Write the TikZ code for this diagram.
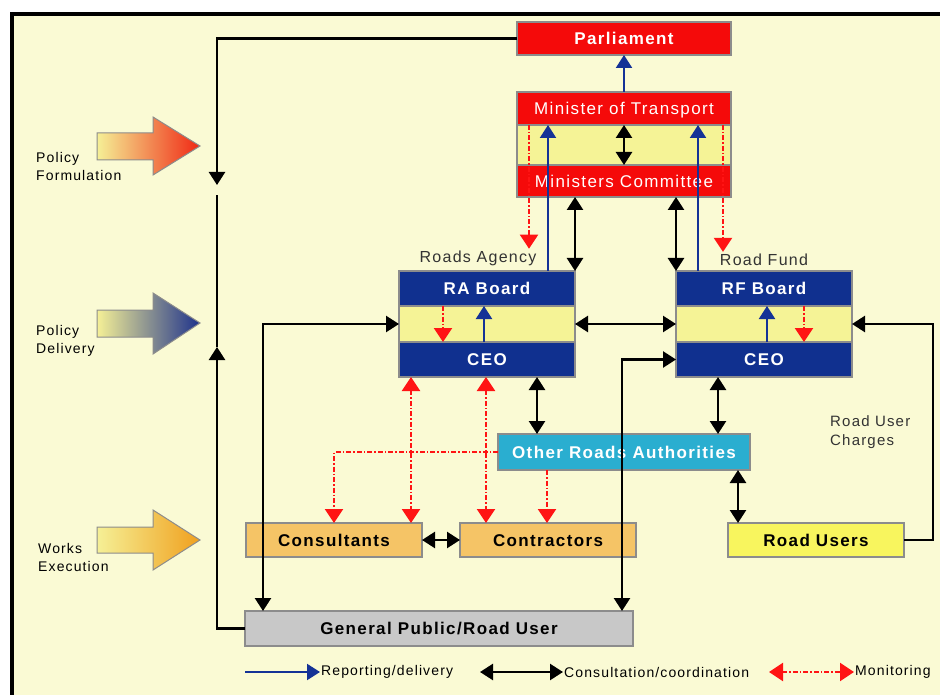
\documentclass[tikz,border=0pt]{standalone}
\usepackage{fontspec}
\setmainfont[LetterSpace=8]{Liberation Sans}
\usetikzlibrary{positioning, arrows.meta}

\definecolor{bgyellow}{RGB}{250,250,212}
\definecolor{bandyellow}{RGB}{245,243,150}
\definecolor{parlred}{RGB}{245,10,10}
\definecolor{navy}{RGB}{16,48,143}
\definecolor{oracyan}{RGB}{42,174,208}
\definecolor{workorange}{RGB}{245,196,102}
\definecolor{useryellow}{RGB}{248,245,94}
\definecolor{publicgray}{RGB}{200,200,200}
\definecolor{edgegray}{RGB}{140,140,140}
\definecolor{repblue}{RGB}{20,50,150}
\definecolor{monred}{RGB}{255,20,20}
\definecolor{fadeyellow}{RGB}{245,240,150}

\tikzstyle{box} = [rectangle, minimum height=34pt, text centered, draw=edgegray, line width=1.5pt, inner sep=0pt, outer sep=0pt, text height=12.3pt, text depth=0pt, font=\fontsize{17}{20}\selectfont\bfseries]
\tikzstyle{redbox} = [box, minimum width=214pt, fill=parlred, text=white]
\tikzstyle{band} = [box, fill=bandyellow]
\tikzstyle{navybox} = [box, minimum width=176pt, minimum height=35pt, fill=navy, text=white]
\tikzstyle{workbox} = [box, minimum width=176pt, fill=workorange]
\tikzstyle{grouptext} = [inner sep=2pt, text=black!80, font=\fontsize{16}{19}\selectfont]
\tikzstyle{sidetext} = [anchor=west, align=left, inner sep=0pt, font=\fontsize{14}{18}\selectfont]
\tikzstyle{legend} = [anchor=west, inner sep=1pt, font=\fontsize{14}{17}\selectfont]
\tikzstyle{arrow} = [line width=2.5pt, -{Triangle[length=13pt, width=16pt]}]
\tikzstyle{biarrow} = [line width=2.5pt, {Triangle[length=13pt, width=16pt]}-{Triangle[length=13pt, width=16pt]}]
\tikzstyle{report} = [line width=2.2pt, draw=repblue, -{Triangle[length=13pt, width=16pt]}]
\tikzstyle{monitor} = [line width=2.2pt, draw=monred, dash pattern=on 5pt off 2pt on 1.5pt off 2pt, -{Triangle[length=14pt, width=18pt]}]
\tikzstyle{bimonitor} = [monitor, {Triangle[length=14pt, width=18pt]}-{Triangle[length=14pt, width=18pt]}]

\begin{document}
\begin{tikzpicture}[x=1pt, y=-1pt]
\useasboundingbox (0,0) rectangle (940,695);
\fill [white] (0,0) rectangle (940,695);
\fill [bgyellow] (12,14) rectangle (940,695);
\draw [line width=3.5pt] (12,695) -- (12,14) -- (940,14);

% phase arrows on the left
\shadedraw [left color=fadeyellow, right color={rgb,255:red,240;green,40;blue,20}, draw=edgegray, line width=1pt] (97,133) -- (153,133) -- (153,117) -- (200,146) -- (153,175) -- (153,160) -- (97,160) -- cycle;
\shadedraw [left color=fadeyellow, right color={rgb,255:red,30;green,50;blue,140}, draw=edgegray, line width=1pt] (97,310) -- (153,310) -- (153,293) -- (200,323) -- (153,354) -- (153,337) -- (97,337) -- cycle;
\shadedraw [left color=fadeyellow, right color={rgb,255:red,240;green,160;blue,30}, draw=edgegray, line width=1pt] (97,527) -- (153,527) -- (153,510) -- (200,540) -- (153,570) -- (153,553) -- (97,553) -- cycle;
\node (pf_label) [sidetext] at (36,166) {Policy\\Formulation};
\node (pd_label) [sidetext] at (36,341) {Policy\\Delivery};
\node (we_label) [sidetext] at (38,557) {Works\\Execution};

% ministry
\node (parliament) [redbox, minimum height=33pt] at (624,38.5) {Parliament};
\node (minister) [redbox, minimum height=33pt, below=37pt of parliament, font=\fontsize{17}{20}\selectfont] {Minister of Transport};
\node (m_band) [band, minimum width=214pt, minimum height=40pt, below=0pt of minister] {};
\node (m_committee) [redbox, minimum height=32pt, below=0pt of m_band, font=\fontsize{17}{20}\selectfont] {Ministers Committee};

% roads agency and road fund
\node (ra_board) [navybox] at (487,288.5) {RA Board};
\node (ra_band) [band, minimum width=176pt, minimum height=36pt, below=0pt of ra_board] {};
\node (ra_ceo) [navybox, below=0pt of ra_band] {CEO};
\node (ra_label) [grouptext, above=3pt of ra_board, xshift=-9pt] {Roads Agency};

\node (rf_board) [navybox, right=101pt of ra_board] {RF Board};
\node (rf_band) [band, minimum width=176pt, minimum height=36pt, below=0pt of rf_board] {};
\node (rf_ceo) [navybox, below=0pt of rf_band] {CEO};
\node (rf_label) [grouptext, above=3pt of rf_board] {Road Fund};

% lower level
\node (ora) [box, fill=oracyan, text=white, minimum width=252pt, minimum height=36pt] at (624,452) {Other Roads Authorities};
\node (consultants) [workbox] at (334,540) {Consultants};
\node (contractors) [workbox, right=38pt of consultants] {Contractors};
\node (road_users) [box, fill=useryellow, minimum width=176pt] at (816,540) {Road Users};
\node (public) [box, fill=publicgray, minimum width=388pt, minimum height=35pt] at (439,628.5) {General Public/Road User};
\node (charges) [sidetext, text=black!80, font=\fontsize{15}{19}\selectfont] at (830,432) {Road User\\Charges};

% left feedback line
\coordinate (pf_end) at (217,185);
\coordinate (pd_end) at (217,347);
\coordinate (pd_top) at (217,195);
\draw [arrow] (parliament.west) -| (pf_end);
\draw [arrow] (public.west) -| (pd_end);
\draw [line width=2.5pt] (pd_end) -- (pd_top);

% ministry links
\draw [report] (minister.north) -- (parliament.south);
\draw [biarrow] (minister.south) -- (m_committee.north);
\draw [monitor] ([xshift=-95pt]minister.south) -- ([xshift=-95pt]minister.south |- ra_label.north);
\draw [monitor] ([xshift=99pt]minister.south) -- ([xshift=99pt]minister.south |- rf_label.north);
\draw [report] ([xshift=61pt]ra_board.north) -- ([xshift=61pt]ra_board.north |- minister.south);
\draw [report] ([xshift=22pt]rf_board.north west) -- ([xshift=22pt]rf_board.north west |- minister.south);
\draw [biarrow] (ra_board.north east) -- (ra_board.north east |- m_committee.south);
\draw [biarrow] (rf_board.north west) -- (rf_board.north west |- m_committee.south);

% inside the boards
\draw [monitor] ([xshift=-44pt]ra_board.south) -- ([xshift=-44pt]ra_ceo.north);
\draw [report] ([xshift=-3pt]ra_ceo.north) -- ([xshift=-3pt]ra_board.south);
\draw [report] ([xshift=3pt]rf_ceo.north) -- ([xshift=3pt]rf_board.south);
\draw [monitor] ([xshift=40pt]rf_board.south) -- ([xshift=40pt]rf_ceo.north);
\draw [biarrow] (ra_band.east) -- (rf_band.west);

% public and road users
\draw [biarrow] ([xshift=18pt]public.north west) |- (ra_band.west);
\draw [biarrow] ([xshift=-11pt]public.north east) |- (rf_ceo.west);
\draw [arrow] (road_users.east) -| ([xshift=81pt]rf_band.east) -- (rf_band.east);

% authorities, consultants, contractors
\draw [biarrow] ([xshift=50pt]ra_ceo.south) -- ([xshift=50pt]ra_ceo.south |- ora.north);
\draw [biarrow] ([xshift=-46pt]rf_ceo.south) -- ([xshift=-46pt]rf_ceo.south |- ora.north);
\draw [biarrow] ([xshift=114pt]ora.south) -- ([xshift=114pt]ora.south |- road_users.north);
\draw [biarrow] (consultants.east) -- (contractors.west);
\draw [bimonitor] ([xshift=-76pt]ra_ceo.south) -- ([xshift=-76pt]ra_ceo.south |- consultants.north);
\draw [bimonitor] ([xshift=-1pt]ra_ceo.south) -- ([xshift=-1pt]ra_ceo.south |- contractors.north);
\draw [monitor] (ora.west) -| (consultants.north);
\draw [monitor] ([xshift=-77pt]ora.south) -- ([xshift=-77pt]ora.south |- contractors.north);

% legend
\coordinate (leg_report_start) at (245,672);
\coordinate (leg_consult_start) at (480,672);
\coordinate (leg_monitor_start) at (769,672);
\node (leg_report) [legend] at (320,672) {Reporting/delivery};
\node (leg_consult) [legend] at (563,672) {Consultation/coordination};
\node (leg_monitor) [legend] at (854,672) {Monitoring};
\draw [report] (leg_report_start) -- (leg_report.west);
\draw [biarrow] (leg_consult_start) -- (leg_consult.west);
\draw [bimonitor] (leg_monitor_start) -- (leg_monitor.west);
\end{tikzpicture}
\end{document}
